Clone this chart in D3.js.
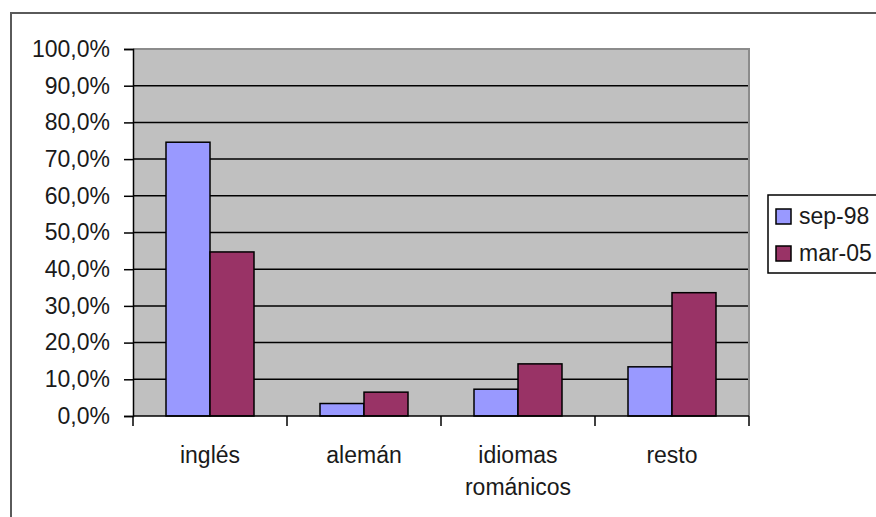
<!DOCTYPE html>
<html>
<head>
<meta charset="utf-8">
<script src="https://cdn.jsdelivr.net/npm/d3@7"></script>
<style>
  body { margin: 0; background: #fff; }
  svg { display: block; font-family: "Liberation Sans", Arial, sans-serif; }
</style>
</head>
<body>
<svg id="chart" width="876" height="517"></svg>
<script>
// Données
const categories = ["inglés", "alemán", "idiomas románicos", "resto"];
const series = ["sep-98", "mar-05"];
const sep98 = [0.746, 0.034, 0.073, 0.134];
const mar05 = [0.447, 0.065, 0.142, 0.336];
const yTicks = [0, 0.1, 0.2, 0.3, 0.4, 0.5, 0.6, 0.7, 0.8, 0.9, 1.0];
const colors = ["#9999ff", "#993366"];

const values = [sep98, mar05];
const fmt = v => d3.format(".1f")(v * 100).replace(".", ",") + "%";
const fontSize = 23;

const svg = d3.select("#chart");
const plot = { left: 133, right: 749, top: 49, bottom: 416 };

// Cadre extérieur
svg.append("path")
  .attr("d", "M11,517 L11,13 L876,13")
  .attr("fill", "none")
  .attr("stroke", "#5a5a5a")
  .attr("stroke-width", 2);

const x = d3.scaleBand()
  .domain(categories)
  .range([plot.left, plot.right]);

const xs = d3.scaleBand()
  .domain(series)
  .range([0, x.bandwidth()])
  .paddingOuter(0.75);

const y = d3.scaleLinear()
  .domain([0, 1])
  .range([plot.bottom, plot.top]);

// Fond de la zone de tracé
svg.append("rect")
  .attr("x", plot.left)
  .attr("y", plot.top)
  .attr("width", plot.right - plot.left)
  .attr("height", plot.bottom - plot.top)
  .attr("fill", "#c0c0c0");

// Lignes de quadrillage
svg.append("g")
  .selectAll("line")
  .data(yTicks.filter(t => t > 0 && t < 1))
  .join("line")
  .attr("x1", plot.left)
  .attr("x2", plot.right)
  .attr("y1", d => y(d))
  .attr("y2", d => y(d))
  .attr("stroke", "#000")
  .attr("stroke-width", 1.5);

// Bordure grise (haut et droite)
svg.append("path")
  .attr("d", `M${plot.left},${plot.top} L${plot.right},${plot.top} L${plot.right},${plot.bottom}`)
  .attr("fill", "none")
  .attr("stroke", "#8c8c8c")
  .attr("stroke-width", 2);

// Barres
const groups = svg.append("g")
  .selectAll("g")
  .data(series)
  .join("g")
  .attr("fill", (d, i) => colors[i]);

groups.selectAll("rect")
  .data((s, i) => categories.map((c, j) => ({ cat: c, s: s, v: values[i][j] })))
  .join("rect")
  .attr("x", d => x(d.cat) + xs(d.s))
  .attr("y", d => y(d.v))
  .attr("width", xs.bandwidth())
  .attr("height", d => y(0) - y(d.v))
  .attr("stroke", "#000")
  .attr("stroke-width", 1.5);

// Axe Y
const yAxis = svg.append("g")
  .attr("transform", `translate(${plot.left},0)`)
  .call(d3.axisLeft(y).tickValues(yTicks).tickFormat(fmt).tickSize(9).tickPadding(14));
yAxis.select(".domain").attr("stroke", "#000").attr("stroke-width", 1.5);
yAxis.selectAll(".tick line").attr("stroke", "#000").attr("stroke-width", 1.5);
yAxis.selectAll("text")
  .attr("font-size", fontSize)
  .attr("font-family", "Liberation Sans, Arial, sans-serif")
  .attr("fill", "#1a1a1a");

// Axe X : graduations entre les catégories
const bounds = categories.map(c => x(c)).concat([plot.right]);
svg.append("line")
  .attr("x1", plot.left).attr("x2", plot.right)
  .attr("y1", plot.bottom).attr("y2", plot.bottom)
  .attr("stroke", "#000").attr("stroke-width", 1.5);
svg.append("g")
  .selectAll("line")
  .data(bounds)
  .join("line")
  .attr("x1", d => d).attr("x2", d => d)
  .attr("y1", plot.bottom).attr("y2", plot.bottom + 10)
  .attr("stroke", "#000").attr("stroke-width", 1.5);

// Libellés des catégories (sur deux lignes si besoin)
const labels = svg.append("g")
  .selectAll("text")
  .data(categories)
  .join("text")
  .attr("text-anchor", "middle")
  .attr("font-size", fontSize)
  .attr("fill", "#1a1a1a");
labels.each(function (c) {
  const words = c.split(" ");
  const t = d3.select(this);
  words.forEach((w, k) => {
    t.append("tspan")
      .attr("x", x(c) + x.bandwidth() / 2)
      .attr("y", 463 + k * 32)
      .text(w);
  });
});

// Légende
const legend = svg.append("g").attr("transform", "translate(768,195)");
legend.append("rect")
  .attr("width", 130).attr("height", 78)
  .attr("fill", "#fff").attr("stroke", "#000").attr("stroke-width", 1.5);
const items = legend.selectAll("g.item")
  .data(series)
  .join("g")
  .attr("class", "item")
  .attr("transform", (d, i) => `translate(8,${14 + i * 37})`);
items.append("rect")
  .attr("width", 15).attr("height", 15)
  .attr("fill", (d, i) => colors[i])
  .attr("stroke", "#000").attr("stroke-width", 1.5);
items.append("text")
  .attr("x", 23).attr("y", 15)
  .attr("font-size", fontSize)
  .attr("fill", "#1a1a1a")
  .text(d => d);
</script>
</body>
</html>
